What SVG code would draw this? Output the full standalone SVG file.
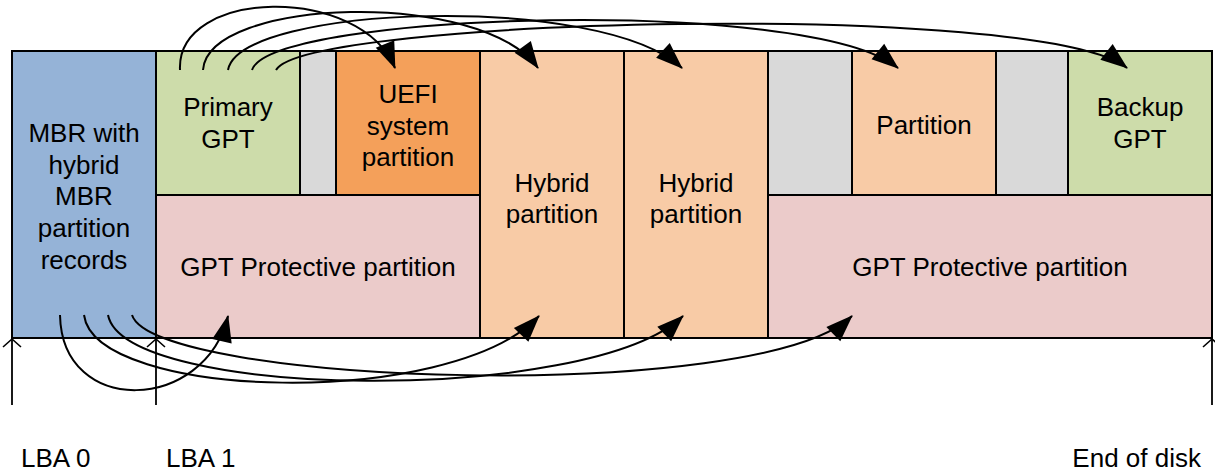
<svg xmlns="http://www.w3.org/2000/svg" width="1215" height="473" viewBox="0 0 1215 473">
<style>
.box{stroke:#000;stroke-width:2}
.t{font-family:"Liberation Sans",Arial,sans-serif;font-size:26px;fill:#000;text-anchor:middle}
.lbl{font-family:"Liberation Sans",Arial,sans-serif;font-size:26px;fill:#000}
.c{fill:none;stroke:#000;stroke-width:2}
.v{fill:none;stroke:#000;stroke-width:1.8}
</style>
<defs>
<marker id="ah" markerUnits="userSpaceOnUse" markerWidth="30" markerHeight="22" refX="26" refY="10" orient="auto" overflow="visible">
<path d="M0,0 L27,10 L0,20 Z" fill="#000"/>
</marker>
<marker id="open" markerUnits="userSpaceOnUse" markerWidth="12" markerHeight="22" refX="9" refY="10" orient="auto" overflow="visible">
<path d="M1,1 L9,10 L1,19" fill="none" stroke="#000" stroke-width="1.6"/>
</marker>
</defs>
<rect width="1215" height="473" fill="#fff"/>
<g id="mbr"><rect class="box" x="12" y="51" width="144" height="287" fill="#95B3D7"/>
<text class="t" x="84" y="142">MBR with</text><text class="t" x="84" y="174">hybrid</text><text class="t" x="84" y="205">MBR</text><text class="t" x="84" y="237">partition</text><text class="t" x="84" y="269">records</text></g>
<g id="primary-gpt"><rect class="box" x="156" y="51" width="144" height="144" fill="#CDDCAA"/>
<text class="t" x="228" y="116">Primary</text><text class="t" x="228" y="148">GPT</text></g>
<g id="gap1"><rect class="box" x="300" y="51" width="36" height="144" fill="#D9D9D9"/></g>
<g id="uefi"><rect class="box" x="336" y="51" width="144" height="144" fill="#F4A05A"/>
<text class="t" x="408" y="103">UEFI</text><text class="t" x="408" y="135">system</text><text class="t" x="408" y="166">partition</text></g>
<g id="gpt-protective-1"><rect class="box" x="156" y="195" width="324" height="143" fill="#EBCBCA"/>
<text class="t" x="318" y="276">GPT Protective partition</text></g>
<g id="hybrid1"><rect class="box" x="480" y="51" width="144" height="287" fill="#F8CBA6"/>
<text class="t" x="552" y="192">Hybrid</text><text class="t" x="552" y="223">partition</text></g>
<g id="hybrid2"><rect class="box" x="624" y="51" width="144" height="287" fill="#F8CBA6"/>
<text class="t" x="696" y="192">Hybrid</text><text class="t" x="696" y="223">partition</text></g>
<g id="gap2"><rect class="box" x="768" y="51" width="84" height="144" fill="#D9D9D9"/></g>
<g id="partition"><rect class="box" x="852" y="51" width="144" height="144" fill="#F8CBA6"/>
<text class="t" x="924" y="134">Partition</text></g>
<g id="gap3"><rect class="box" x="996" y="51" width="72" height="144" fill="#D9D9D9"/></g>
<g id="backup-gpt"><rect class="box" x="1068" y="51" width="144" height="144" fill="#CDDCAA"/>
<text class="t" x="1140" y="116">Backup</text><text class="t" x="1140" y="148">GPT</text></g>
<g id="gpt-protective-2"><rect class="box" x="768" y="195" width="444" height="143" fill="#EBCBCA"/>
<text class="t" x="990" y="276">GPT Protective partition</text></g>
<g id="connectors">
<path class="c" marker-end="url(#ah)" d="M180,70 C176,-12 360,-16 395,68"/>
<path class="c" marker-end="url(#ah)" d="M203,70 C208,-2 480,-12 538,68"/>
<path class="c" marker-end="url(#ah)" d="M228,70 C240,5 600,-8 682,68"/>
<path class="c" marker-end="url(#ah)" d="M252,70 C272,12 810,-4 898,68"/>
<path class="c" marker-end="url(#ah)" d="M276,70 C305,18 1040,0 1127,68"/>
<path class="c" marker-end="url(#ah)" d="M60,315 C62,418 205,412 228,316"/>
<path class="c" marker-end="url(#ah)" d="M84,315 C95,400 450,410 539,316"/>
<path class="c" marker-end="url(#ah)" d="M108,315 C125,400 590,405 683,316"/>
<path class="c" marker-end="url(#ah)" d="M132,315 C155,385 760,405 852,316"/>
<path class="v" marker-end="url(#open)" d="M12,405 L12,339"/>
<path class="v" marker-end="url(#open)" d="M156,405 L156,339"/>
<path class="v" marker-end="url(#open)" d="M1212,405 L1212,339"/>
</g>
<text class="lbl" x="21" y="467">LBA 0</text>
<text class="lbl" x="166" y="467">LBA 1</text>
<text class="lbl" x="1201" y="467" text-anchor="end">End of disk</text>
</svg>
